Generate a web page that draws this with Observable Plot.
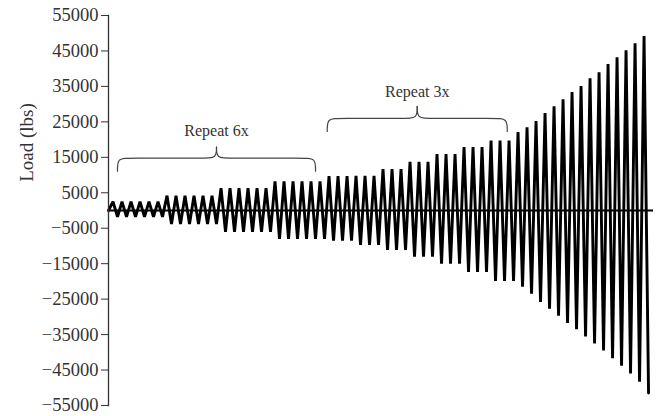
<!DOCTYPE html>
<html>
<head>
<meta charset="utf-8">
<script src="https://cdn.jsdelivr.net/npm/d3@7"></script>
<script src="https://cdn.jsdelivr.net/npm/@observablehq/plot@0.6"></script>
<style>
  html, body { margin: 0; padding: 0; background: #fff; }
  #chart svg { display: block; }
</style>
</head>
<body>
<div id="chart"></div>
<script>
// Peak (positive) load of each cycle, lbs
const peakLoads = [
  2500, 2500, 2500, 2500, 2500, 2500,
  4200, 4200, 4200, 4200, 4200, 4200,
  6300, 6300, 6300, 6300, 6300, 6300,
  8200, 8200, 8200, 8200, 8200, 8200,
  9700, 9700, 9700,
  9800, 9800, 9800,
  11700, 11700, 11700,
  13700, 13700, 13700,
  15900, 15900, 15900,
  17900, 17900, 17900,
  19700, 19700, 19700,
  22100, 23500, 25200, 27500, 29400, 31400, 33400, 35100,
  37300, 39000, 41300, 43200, 45200, 47200, 49200
];
// Trough (negative) load of each cycle, lbs
const troughLoads = [
  -1800, -1800, -1800, -1800, -1800, -1800,
  -3800, -3800, -3800, -3800, -3800, -3800,
  -6000, -6000, -6000, -6000, -6000, -6000,
  -8000, -8000, -8000, -8000, -8000, -8000,
  -8500, -8500, -8500,
  -9700, -9700, -9700,
  -11100, -11100, -11100,
  -13000, -13000, -13000,
  -15000, -15000, -15000,
  -17300, -17300, -17300,
  -19900, -19900, -19900,
  -21500, -23500, -25800, -27700, -29700, -31700, -33500, -35500,
  -37500, -39500, -41700, -43800, -46000, -48300, -51500
];
// Y-axis tick values
const yTicks = [55000, 45000, 35000, 25000, 15000, 5000, -5000, -15000, -25000, -35000, -45000, -55000];

// Brace annotations (cycle range, load levels)
const braceLabels = ["Repeat 6x", "Repeat 3x"];
const braceStart = [1.0, 24.3];
const braceEnd = [23.0, 44.3];
const braceEndLoad = [11100, 22300];
const braceBarLoad = [14800, 26000];
const braceTipLoad = [17900, 29400];
const braceTextLoad = [22400, 33400];

// Build the load trace: each cycle goes to its peak, then to its trough
const trace = [{t: 0, v: 0}];
peakLoads.forEach((p, i) => {
  trace.push({t: i + 0.5, v: p});
  trace.push({t: i + 1, v: troughLoads[i]});
});

// Brace curves (two halves each, meeting at the tip)
const braceRows = [];
braceLabels.forEach((lab, k) => {
  const x0 = braceStart[k], x1 = braceEnd[k], xm = (x0 + x1) / 2;
  const ye = braceEndLoad[k], yb = braceBarLoad[k], yt = braceTipLoad[k];
  const c = 1.3;
  const left = [[x0, ye], [x0, yb], [x0 + c, yb], [xm - c, yb], [xm, yb], [xm, yt]];
  const right = [[x1, ye], [x1, yb], [x1 - c, yb], [xm + c, yb], [xm, yb], [xm, yt]];
  left.forEach(([x, y]) => braceRows.push({x, y, g: lab + "L"}));
  right.forEach(([x, y]) => braceRows.push({x, y, g: lab + "R"}));
});
const braceText = braceLabels.map((lab, k) => ({
  label: lab, x: (braceStart[k] + braceEnd[k]) / 2, y: braceTextLoad[k]
}));

const chart = Plot.plot({
  width: 659,
  height: 416,
  marginLeft: 108,
  marginRight: 6,
  marginTop: 15,
  marginBottom: 11,
  style: {fontFamily: "'Liberation Serif', 'Times New Roman', serif", fontSize: "18.5px", color: "#333", background: "#fff"},
  x: {domain: [0, 60.55], axis: null},
  y: {domain: [-55000, 55000], ticks: yTicks, tickFormat: d3.format("d"), tickSize: 7, tickPadding: 3, label: null},
  marks: [
    Plot.ruleY([0], {stroke: "#000", strokeWidth: 2}),
    Plot.line(trace, {x: "t", y: "v", stroke: "#000", strokeWidth: 2.9, strokeLinejoin: "miter", strokeMiterlimit: 2}),
    Plot.line(braceRows, {x: "x", y: "y", z: "g", curve: "basis", stroke: "#444", strokeWidth: 1.2}),
    Plot.text(braceText, {x: "x", y: "y", text: "label", fontSize: 16, fill: "#333"}),
    Plot.text(["Load (lbs)"], {frameAnchor: "top-left", dx: -82, dy: 127, rotate: -90, textAnchor: "middle", lineAnchor: "middle", fontSize: 19, fill: "#333"}),
    Plot.frame({anchor: "left", stroke: "#333", strokeWidth: 1.3})
  ]
});
document.getElementById("chart").appendChild(chart);
</script>
</body>
</html>
